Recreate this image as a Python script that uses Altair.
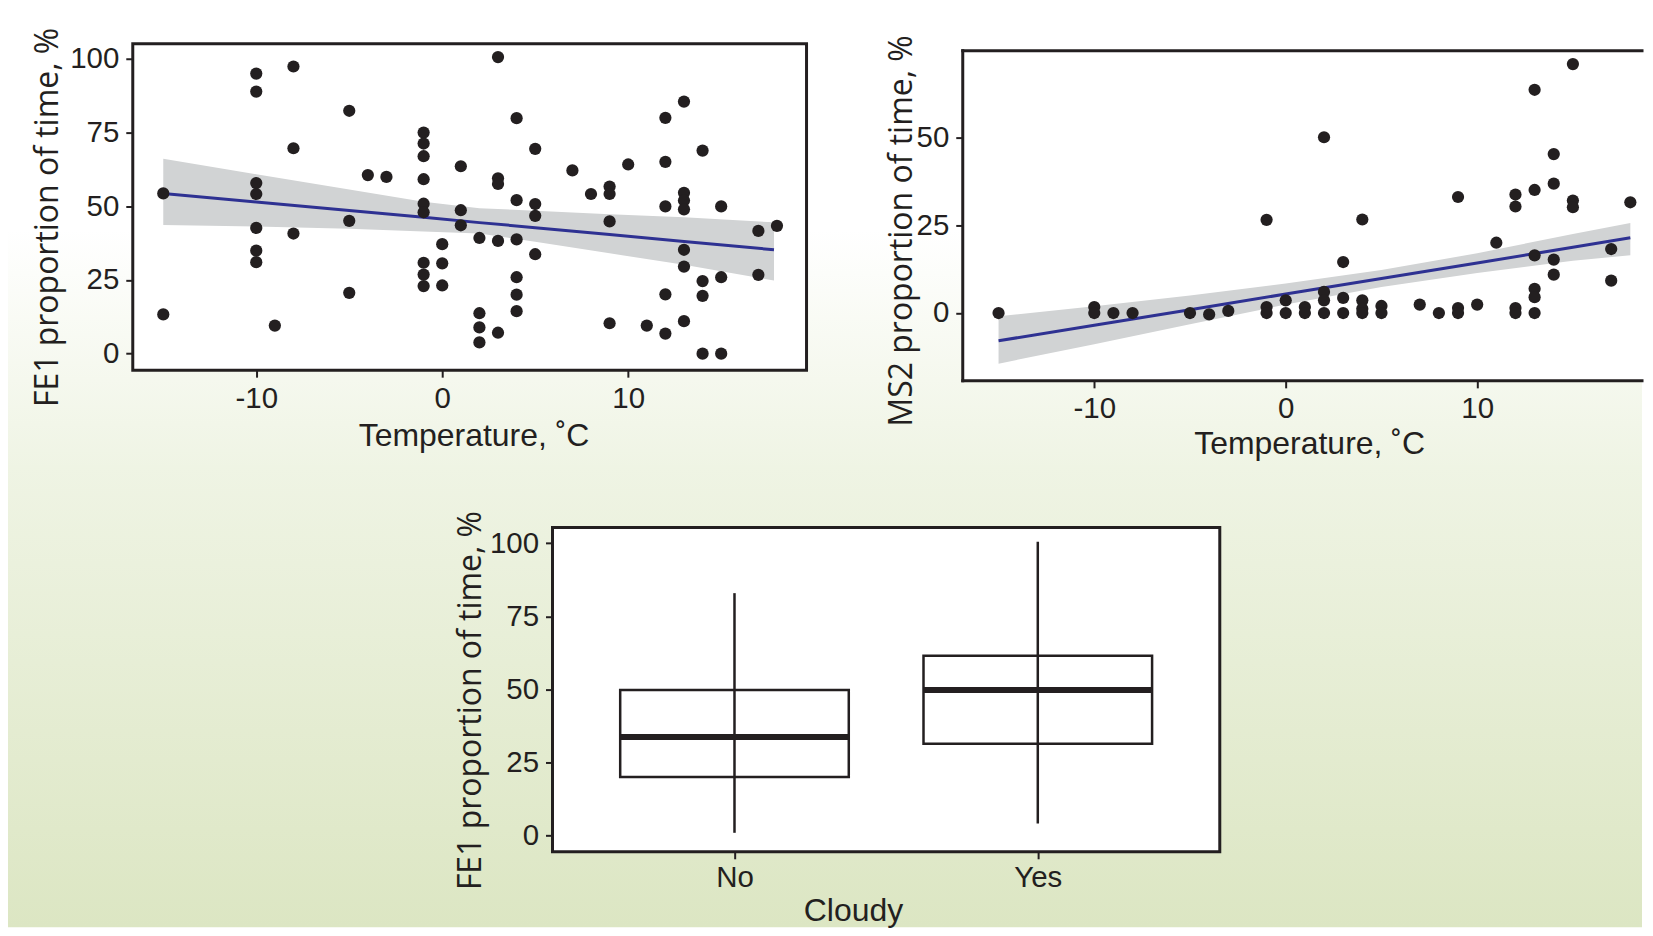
import altair as alt
import pandas as pd

INK = "#231f20"
BLUE = "#2e3192"
BAND = "#d1d3d4"
BG_TOP = "#ffffff"
BG_MID = "#eff4e4"
BG_BOT = "#dce6c3"

# ---------------- data ----------------
# Panel 1: FE1 proportion of time vs temperature
fe1_temp = [-15, -15,
            -10, -10, -10, -10, -10, -10, -10,
            -9,
            -8, -8, -8,
            -5, -5, -5,
            -4, -3,
            -1, -1, -1, -1, -1, -1, -1, -1, -1,
            0, 0, 0,
            1, 1, 1,
            2, 2, 2, 2,
            3, 3, 3, 3, 3,
            4, 4, 4, 4, 4, 4,
            5, 5, 5, 5,
            7, 8,
            9, 9, 9, 9,
            10, 11,
            12, 12, 12, 12, 12,
            13, 13, 13, 13, 13, 13, 13,
            14, 14, 14, 14,
            15, 15, 15,
            17, 17,
            18]
fe1_pct = [54.3, 13.3,
           94.9, 88.8, 57.8, 54.1, 42.6, 34.9, 31.0,
           9.5,
           97.3, 69.6, 40.7,
           82.3, 45.0, 20.6,
           60.5, 59.9,
           74.9, 71.2, 66.9, 59.1, 50.8, 47.9, 30.8, 26.8, 22.9,
           37.1, 30.6, 23.1,
           63.5, 48.6, 43.5,
           39.2, 13.7, 8.9, 3.8,
           100.5, 59.4, 57.5, 38.2, 7.1,
           79.8, 52.0, 38.7, 25.9, 20.0, 14.4,
           69.4, 50.7, 46.7, 33.7,
           62.1, 54.1,
           56.6, 54.1, 44.8, 10.3,
           64.1, 9.5,
           79.9, 65.0, 49.9, 20.1, 6.8,
           85.4, 54.5, 51.9, 48.9, 35.2, 29.5, 11.0,
           68.8, 24.6, 19.6, 0.0,
           49.9, 25.9, 0.0,
           41.6, 26.7,
           43.3]

# linear fit and 95% band of panel 1
fe1_fit_temp = [-15, -10, -5, -1, 2, 5, 9, 13, 17.84]
fe1_fit = [54.3, 51.4, 48.5, 46.2, 44.4, 42.7, 40.4, 38.0, 35.2]
fe1_fit_hi = [66.0, 60.8, 55.6, 51.5, 49.3, 48.4, 47.2, 46.2, 44.5]
fe1_fit_lo = [43.6, 43.1, 42.3, 41.4, 40.7, 37.9, 34.0, 30.1, 24.8]

# Panel 2: MS2 proportion of time vs temperature
ms2_temp = [-15,
            -10, -10,
            -9, -8, -5, -4, -3,
            -1, -1, -1,
            0, 0,
            1, 1,
            2, 2, 2, 2,
            3, 3, 3,
            4, 4, 4, 4,
            5, 5,
            7, 8,
            9, 9, 9,
            10, 11,
            12, 12, 12, 12,
            13, 13, 13, 13, 13, 13,
            14, 14, 14, 14,
            15, 15, 15,
            17, 17,
            18]
ms2_pct = [0.0,
           1.7, 0.0,
           0.0, 0.0, 0.0, -0.4, 0.6,
           26.5, 1.7, 0.0,
           3.6, 0.0,
           1.7, 0.0,
           50.0, 6.0, 3.6, 0.0,
           14.5, 4.3, 0.0,
           26.6, 3.6, 1.2, 0.0,
           2.0, 0.0,
           2.4, 0.0,
           33.0, 1.4, 0.0,
           2.4, 20.0,
           33.7, 30.3, 1.4, 0.0,
           63.5, 35.0, 16.4, 6.9, 4.5, 0.0,
           45.2, 36.8, 15.2, 10.9,
           70.8, 32.0, 30.1,
           18.2, 9.2,
           31.5]

ms2_fit_temp = [-15, -10, -5, 0, 5, 10, 15, 18]
ms2_fit = [-7.9, -3.5, 0.9, 5.4, 9.8, 14.2, 18.7, 21.4]
ms2_fit_hi = [-0.9, 1.9, 5.0, 8.4, 12.2, 17.0, 22.5, 25.6]
ms2_fit_lo = [-14.4, -8.9, -3.2, 2.4, 7.4, 11.4, 14.9, 16.4]

# Panel 3: FE1 proportion of time by cloudiness (box-plot statistics)
cloudy = ["No", "Yes"]
box_min = [0.9, 4.1]
box_q1 = [20.0, 31.4]
box_med = [33.7, 49.8]
box_q3 = [49.8, 61.5]
box_max = [82.9, 100.5]

temp_ticks = [-10, 0, 10]
fe1_ticks = [0, 25, 50, 75, 100]
ms2_ticks = [0, 25, 50]

# ---------------- tables ----------------
fe1_df = pd.DataFrame({"t": fe1_temp, "v": fe1_pct})
fe1_fit_df = pd.DataFrame({"t": fe1_fit_temp, "v": fe1_fit, "lo": fe1_fit_lo, "hi": fe1_fit_hi})
ms2_df = pd.DataFrame({"t": ms2_temp, "v": ms2_pct})
ms2_fit_df = pd.DataFrame({"t": ms2_fit_temp, "v": ms2_fit, "lo": ms2_fit_lo, "hi": ms2_fit_hi})
box_df = pd.DataFrame({"cloudy": cloudy, "lo": box_min, "q1": box_q1,
                       "med": box_med, "q3": box_q3, "hi": box_max})

one = alt.Data(values=[{"k": 0}])

# ---------------- layout (pixels) ----------------
# each panel is a full-size tile; the framed plot sits inside it
R1W, R1H = 840, 460          # tile 1
R2W, R2H = 797, 460          # tile 2
R3W, R3H = 1637, 460         # tile 3
OV = 2                       # tiles overlap slightly to avoid seams
F1 = (125, 800, 35, 362)     # frame: left, right, top, bottom
F2 = (116.5, 797, 42, 372.7)
F3 = (545.5, 1214, 59.5, 384.5)
DOT = 150


def grad(stops):
    return alt.LinearGradient(
        gradient="linear",
        stops=[alt.GradientStop(offset=o, color=c) for o, c in stops],
        x1=0, y1=0, x2=0, y2=1,
    )


TOP_STOPS = [(0, BG_TOP), (0.48, BG_TOP), (1, BG_MID)]
BOT_STOPS = [(0, BG_MID), (1, BG_BOT)]


def rect_px(x0, x1, y0, y1, **kw):
    return alt.Chart(one).mark_rect(**kw).encode(
        x=alt.value(x0), x2=alt.value(x1), y=alt.value(y0), y2=alt.value(y1)
    )


def rule_px(x0, x1, y0, y1):
    return alt.Chart(one).mark_rule(color=INK, strokeWidth=3, strokeCap="square").encode(
        x=alt.value(x0), x2=alt.value(x1), y=alt.value(y0), y2=alt.value(y1)
    )


AX = dict(
    labelFont="Liberation Sans", labelFontSize=29.5, labelColor=INK,
    tickColor=INK, tickWidth=2, tickSize=7, domain=False, grid=False, zindex=1,
    titleColor=INK, titleFontWeight="normal", titleFontSize=32,
    titleAlign="center", titleBaseline="alphabetic",
)


def x_temp_axis(frame, tile_h, tx, ty):
    return alt.Axis(values=temp_ticks, title="Temperature, ˚C", titleFont="Liberation Sans",
                    offset=frame[3] - tile_h, labelPadding=7,
                    titleX=frame[0] + tx, titleY=ty, titleAngle=0,
                    labelExpr="'' + datum.value", **AX)


def y_axis(title, ticks, frame, tx, ty):
    return alt.Axis(values=ticks, title=title, titleFont="Open Sans", titleAngle=270,
                    offset=-frame[0], labelPadding=7,
                    titleX=tx, titleY=frame[2] + ty, labelExpr="'' + datum.value", **AX)


# ---------------- panel 1 ----------------
x1s = alt.Scale(domain=[-16.64, 19.59], range=[F1[0], F1[1]], nice=False, zero=False)
y1s = alt.Scale(domain=[-5.6, 105], range=[F1[3], F1[2]], nice=False, zero=False)
x1 = alt.X("t:Q", scale=x1s, axis=x_temp_axis(F1, R1H, 341.4, 75))
y1a = y_axis("FE1 proportion of time, %", fe1_ticks, F1, -75, 173.5)

p1 = alt.layer(
    rect_px(0, R1W, 0, R1H, fill=grad(TOP_STOPS), strokeWidth=0),
    rect_px(F1[0], F1[1], F1[2], F1[3], fill="white", strokeWidth=0),
    alt.Chart(fe1_fit_df).mark_area(color=BAND, opacity=1).encode(
        x=x1, y=alt.Y("lo:Q", scale=y1s, axis=y1a), y2="hi:Q"),
    alt.Chart(fe1_fit_df).mark_line(color=BLUE, strokeWidth=3).encode(
        x=x1, y=alt.Y("v:Q", scale=y1s, axis=y1a)),
    alt.Chart(fe1_df).mark_circle(size=DOT, color=INK, opacity=1).encode(
        x=x1, y=alt.Y("v:Q", scale=y1s, axis=y1a)),
    rect_px(F1[0], F1[1], F1[2], F1[3], fill="white", fillOpacity=0, stroke=INK, strokeWidth=3),
).properties(width=R1W, height=R1H)

# ---------------- panel 2 ----------------
x2s = alt.Scale(domain=[-16.87, -16.87 + (F2[1] - F2[0]) / 19.18], range=[F2[0], F2[1]],
                nice=False, zero=False)
y2s = alt.Scale(domain=[-19.3, 74.6], range=[F2[3], F2[2]], nice=False, zero=False)
x2 = alt.X("t:Q", scale=x2s, axis=x_temp_axis(F2, R2H, 347, 72.3))
y2a = y_axis("MS2 proportion of time, %", ms2_ticks, F2, -51.5, 180)

p2 = alt.layer(
    rect_px(-OV, R2W, 0, R2H, fill=grad(TOP_STOPS), strokeWidth=0),
    rect_px(F2[0], F2[1], F2[2], F2[3], fill="white", strokeWidth=0),
    alt.Chart(ms2_fit_df).mark_area(color=BAND, opacity=1).encode(
        x=x2, y=alt.Y("lo:Q", scale=y2s, axis=y2a), y2="hi:Q"),
    alt.Chart(ms2_fit_df).mark_line(color=BLUE, strokeWidth=3).encode(
        x=x2, y=alt.Y("v:Q", scale=y2s, axis=y2a)),
    alt.Chart(ms2_df).mark_circle(size=DOT, color=INK, opacity=1).encode(
        x=x2, y=alt.Y("v:Q", scale=y2s, axis=y2a)),
    rule_px(F2[0], F2[1], F2[2], F2[2]),
    rule_px(F2[0], F2[1], F2[3], F2[3]),
    rule_px(F2[0], F2[0], F2[2], F2[3]),
).properties(width=R2W, height=R2H)

# ---------------- panel 3 ----------------
x3s = alt.Scale(type="point", domain=cloudy, padding=0.6, range=[F3[0], F3[1]])
y3s = alt.Scale(domain=[-5.6, 105.4], range=[F3[3], F3[2]], nice=False, zero=False)
x3 = alt.X("cloudy:N", scale=x3s,
           axis=alt.Axis(title="Cloudy", titleFont="Liberation Sans",
                         offset=F3[3] - R3H, labelPadding=5,
                         titleX=F3[0] + 301, titleY=68.5,
                         titleAngle=0, labelAngle=0, **AX))
y3a = y_axis("FE1 proportion of time, %", fe1_ticks, F3, -72.5, 173)

p3 = alt.layer(
    rect_px(0, R3W, -OV, R3H, fill=grad(BOT_STOPS), strokeWidth=0),
    rect_px(F3[0], F3[1], F3[2], F3[3], fill="white", strokeWidth=0),
    alt.Chart(box_df).mark_bar(size=229, fill="white", stroke=INK, strokeWidth=2.5).encode(
        x=x3, y=alt.Y("q1:Q", scale=y3s, axis=y3a), y2="q3:Q"),
    alt.Chart(box_df).mark_rule(color=INK, strokeWidth=2.5).encode(
        x=x3, y=alt.Y("lo:Q", scale=y3s, axis=y3a), y2="hi:Q"),
    alt.Chart(box_df).mark_tick(size=229, thickness=6, color=INK, opacity=1).encode(
        x=x3, y=alt.Y("med:Q", scale=y3s, axis=y3a)),
    rect_px(F3[0], F3[1], F3[2], F3[3], fill="white", fillOpacity=0, stroke=INK, strokeWidth=3),
).properties(width=R3W, height=R3H)

top = alt.hconcat(p1, p2, spacing=-OV, bounds="full")
chart = alt.vconcat(top, p3, spacing=-OV, bounds="full").properties(
    padding=0
).configure_view(strokeWidth=0)

chart.save("out.html", embed_options={"renderer": "svg", "actions": False})
